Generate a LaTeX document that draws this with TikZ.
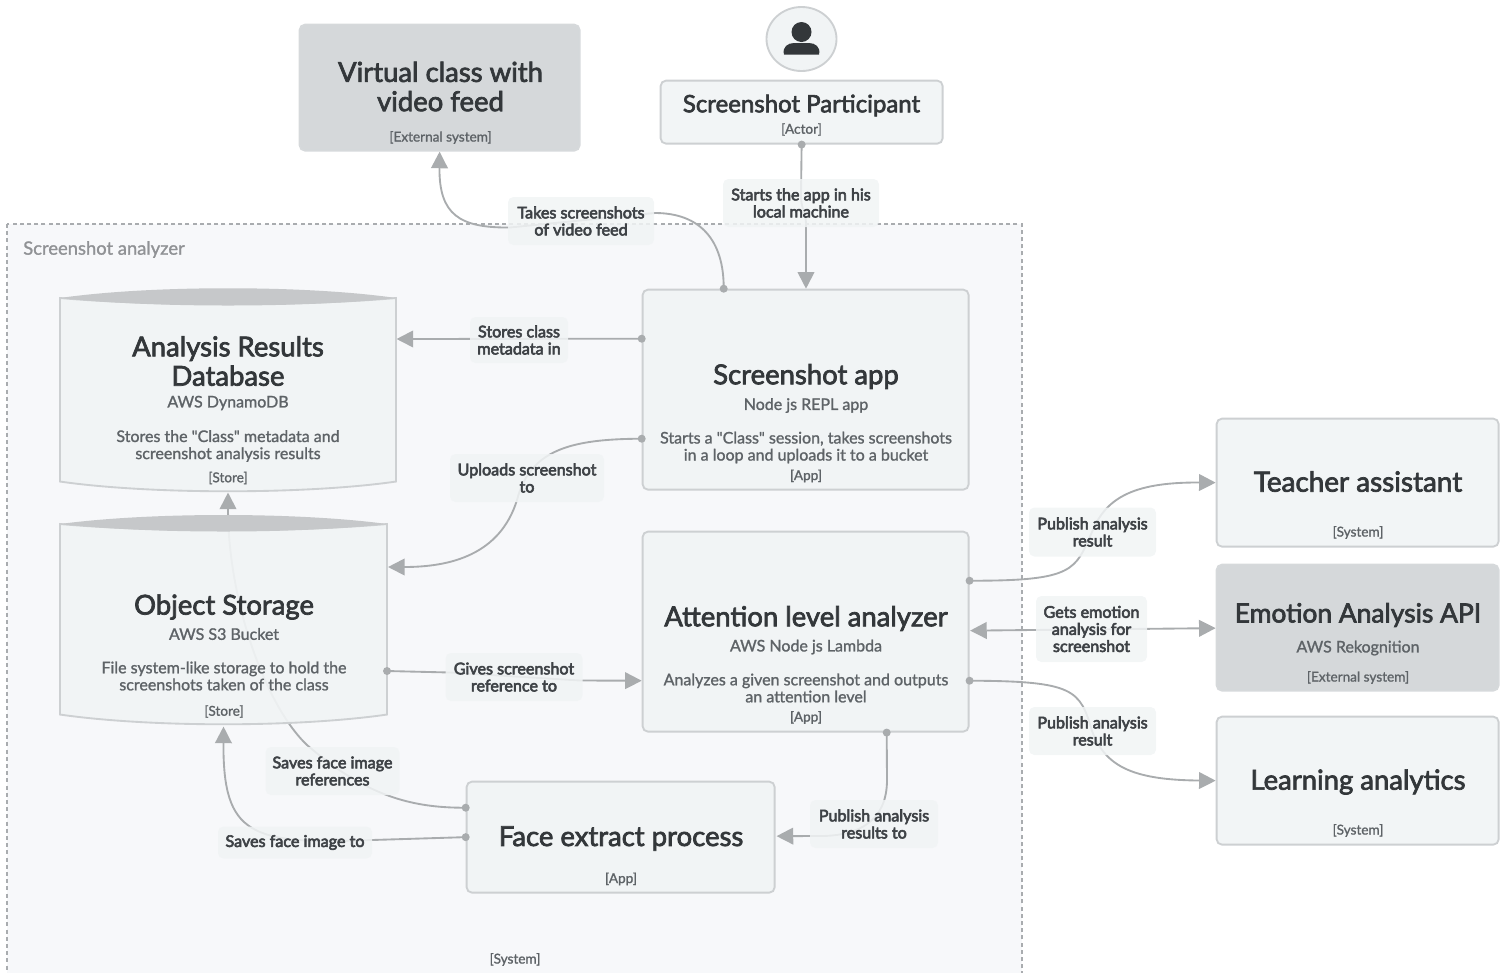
\documentclass[tikz,border=0pt]{standalone}
\usepackage{fontspec}
\setmainfont{Lato}
\newfontfamily\ltitle[FakeBold=2.6]{Lato}
\newfontfamily\llab[FakeBold=3.6]{Lato}
\newfontfamily\lsub[FakeBold=1.3]{Lato}
\usetikzlibrary{calc,arrows.meta,shapes.geometric}
\definecolor{bnd}{HTML}{F7F8FA}
\definecolor{bndline}{HTML}{A9ACAF}
\definecolor{boxfill}{HTML}{F1F4F5}
\definecolor{boxline}{HTML}{CDD0D2}
\definecolor{extfill}{HTML}{D1D5D7}
\definecolor{edgec}{HTML}{A9ACAE}
\definecolor{lens}{HTML}{C6C8CA}
\definecolor{ttl}{HTML}{33373A}
\definecolor{sub}{HTML}{5E6367}
\definecolor{lbl}{HTML}{3E4246}
\pgfdeclarelayer{bgl}\pgfdeclarelayer{edgel}
\pgfsetlayers{bgl,edgel,main}
\tikzset{
 sz/.style 2 args={minimum width=#1*0.75pt,minimum height=#2*0.75pt},
 box/.style={draw=boxline,line width=1.4pt,fill=boxfill,fill opacity=.92,rounded corners=4pt,inner sep=0,anchor=north west},
 extbox/.style={box,draw=extfill!90!white,fill=extfill},
 ghost/.style={inner sep=0,anchor=north west},
 ttlA/.style={text=ttl,align=center,font=\ltitle\fontsize{20.6}{22}\selectfont,inner sep=0},
 ttlB/.style={text=ttl,align=center,font=\ltitle\fontsize{18}{20}\selectfont,inner sep=0},
 subt/.style={text=sub,align=center,font=\lsub\fontsize{12}{12.8}\selectfont,inner sep=0},
 tagt/.style={text=sub,font=\lsub\fontsize{10.2}{11}\selectfont,inner sep=0},
 lab/.style={fill=boxfill,fill opacity=.85,text opacity=1,text=lbl,rounded corners=4pt,align=center,font=\llab\fontsize{12.1}{12.8}\selectfont,inner sep=0},
 edge/.style={draw=edgec,line width=1.4pt,-{Triangle[length=12.5pt,width=12.5pt]}},
 edgeb/.style={draw=edgec,line width=1.4pt,{Triangle[length=12.5pt,width=12.5pt]}-{Triangle[length=12.5pt,width=12.5pt]}},
 dotc/.style={fill=edgec,draw=none},
}
\newcommand{\pdot}[1]{\fill[dotc] (#1) circle (4);}
\begin{document}
\begin{tikzpicture}[x=0.75pt,y=-0.75pt]
\useasboundingbox (0,0) rectangle (1507,972);
\begin{pgfonlayer}{bgl}
\clip (0,0) rectangle (1507,972);
\draw[fill=bnd,draw=bndline,line width=1pt,dash pattern=on 3pt off 2.4pt] (7,224) rectangle (1022,985);
\end{pgfonlayer}
% boundary labels
\node[anchor=west,text=bndline!85!black,font=\lsub\fontsize{13.8}{14}\selectfont,inner sep=0] (sysname) at (23,249.5) {Screenshot analyzer};
\node[tagt] (systag) at (515,959.5) {[System]};
% external
\node[extbox,sz={280}{126}] (virt) at (298.7,23.7) {};
\node[ttlA] (virtT) at (440.5,86.5) {Virtual class with\\video feed};
\node[tagt] (virtG) at (440.5,137.5) {[External system]};
% actor
\node[ellipse,draw=boxline,line width=1.4pt,fill=boxfill,sz={70}{64},inner sep=0] (actor) at (801.5,39) {};
\fill[ttl] (801.5,32) circle (10);
\fill[ttl] (784,54.5) .. controls (782,47) and (788,43) .. (794,43) -- (809,43) .. controls (815,43) and (821,47) .. (819,54.5) -- cycle;
\node[box,sz={282}{63}] (part) at (659.7,79.7) {};
\node[ttlB] (partT) at (801.5,105.5) {Screenshot Participant};
\node[tagt] (partG) at (801.5,129.5) {[Actor]};
% app
\node[box,sz={326}{200}] (app) at (641.7,288.7) {};
\node[ttlA] (appT) at (806,376.5) {Screenshot app};
\node[subt] (appS) at (806,405.5) {Node js REPL app};
\node[subt] (appD) at (806,447.5) {Starts a "Class" session, takes screenshots\\in a loop and uploads it to a bucket};
\node[tagt] (appG) at (806,476) {[App]};
% attention
\node[box,sz={326}{200}] (att) at (641.7,530.7) {};
\node[ttlA] (attT) at (806,618.5) {Attention level analyzer};
\node[subt] (attS) at (806,647) {AWS Node js Lambda};
\node[subt] (attD) at (806,688) {Analyzes a given screenshot and outputs\\an attention level};
\node[tagt] (attG) at (806,717.5) {[App]};
% face
\node[box,sz={308}{111}] (face) at (465.7,780.7) {};
\node[ttlA] (faceT) at (621,838.5) {Face extract process};
\node[tagt] (faceG) at (621,879) {[App]};
% right
\node[box,sz={282}{128}] (teach) at (1215.7,417.7) {};
\node[ttlA,font=\ltitle\fontsize{20.9}{22}\selectfont] (teachT) at (1358,481.5) {Teacher assistant};
\node[tagt] (teachG) at (1358,532.5) {[System]};
\node[extbox,sz={282}{126}] (emo) at (1215.7,563.7) {};
\node[ttlA,font=\ltitle\fontsize{19.8}{22}\selectfont] (emoT) at (1358,615) {Emotion Analysis API};
\node[subt,text=sub] (emoS) at (1358,648) {AWS Rekognition};
\node[tagt] (emoG) at (1358,677.5) {[External system]};
\node[box,sz={282}{128}] (learn) at (1215.7,715.7) {};
\node[ttlA] (learnT) at (1358,782) {Learning analytics};
\node[tagt] (learnG) at (1358,830.5) {[System]};
% cylinders
\node[ghost,sz={335.5}{203}] (db) at (60,288) {};
\path[fill=boxfill,fill opacity=.92,draw=boxline,line width=1.4pt] ($(db.north west)+(0,10)$) .. controls ($(db.north west)+(90,18)$) and ($(db.north east)+(-90,18)$) .. ($(db.north east)+(0,10)$) -- ($(db.south east)+(0,-10)$) .. controls ($(db.south east)+(-90,3)$) and ($(db.south west)+(90,3)$) .. ($(db.south west)+(0,-10)$) -- cycle;
\fill[lens] ($(db.north west)+(0,10)$) .. controls ($(db.north west)+(90,-3)$) and ($(db.north east)+(-90,-3)$) .. ($(db.north east)+(0,10)$) .. controls ($(db.north east)+(-90,20)$) and ($(db.north west)+(90,20)$) .. cycle;
\node[ttlA] (dbT) at (228,361) {Analysis Results\\Database};
\node[subt] (dbS) at (228,403) {AWS DynamoDB};
\node[subt] (dbD) at (228,446) {Stores the "Class" metadata and\\screenshot analysis results};
\node[tagt] (dbG) at (228,478) {[Store]};
\node[ghost,sz={326.5}{209}] (obj) at (60,515) {};
\path[fill=boxfill,fill opacity=.92,draw=boxline,line width=1.4pt] ($(obj.north west)+(0,9)$) .. controls ($(obj.north west)+(90,17)$) and ($(obj.north east)+(-90,17)$) .. ($(obj.north east)+(0,9)$) -- ($(obj.south east)+(0,-10)$) .. controls ($(obj.south east)+(-90,3)$) and ($(obj.south west)+(90,3)$) .. ($(obj.south west)+(0,-10)$) -- cycle;
\fill[lens] ($(obj.north west)+(0,9)$) .. controls ($(obj.north west)+(90,-3)$) and ($(obj.north east)+(-90,-3)$) .. ($(obj.north east)+(0,9)$) .. controls ($(obj.north east)+(-90,19)$) and ($(obj.north west)+(90,19)$) .. cycle;
\node[ttlA] (objT) at (224,607) {Object Storage};
\node[subt] (objS) at (224,634) {AWS S3 Bucket};
\node[subt] (objD) at (224,676) {File system-like storage to hold the\\screenshots taken of the class};
\node[tagt] (objG) at (224,711.5) {[Store]};
% labels
\node[lab,sz={156}{48}] (l1) at (801,203) {Starts the app in his\\local machine};
\node[lab,sz={146}{48}] (l2) at (581,221) {Takes screenshots\\of video feed};
\node[lab,sz={98}{46}] (l3) at (519,340) {Stores class\\metadata in};
\node[lab,sz={154}{48}] (l4) at (527,478) {Uploads screenshot\\to};
\node[lab,sz={137}{48}] (l5) at (514,677) {Gives screenshot\\reference to};
\node[lab,sz={128}{48}] (l6) at (874,824) {Publish analysis\\results to};
\node[lab,sz={154}{32}] (l7) at (295,842.5) {Saves face image to};
\node[lab,sz={134}{48}] (l8) at (332.5,771) {Saves face image\\references};
\node[lab,sz={127}{49}] (l9) at (1092.5,532) {Publish analysis\\result};
\node[lab,sz={111}{66}] (l10) at (1091.5,629) {Gets emotion\\analysis for\\screenshot};
\node[lab,sz={127}{48}] (l11) at (1092.5,731) {Publish analysis\\result};
% ports and edges
\begin{pgfonlayer}{edgel}
\coordinate (a1) at (part.south);
\coordinate (b1) at (app.north west -| 806,0);
\coordinate (a2) at ($(app.north west)+(82,0)$);
\coordinate (b2) at (virt.south);
\coordinate (a3) at ($(app.north west)+(0,50)$);
\coordinate (b3) at ($(db.north east)+(0.5,51)$);
\coordinate (a4) at ($(app.north west)+(0,150)$);
\coordinate (b4) at ($(obj.north east)+(1,52)$);
\coordinate (a5) at ($(obj.north east)+(0,156)$);
\coordinate (b5) at ($(att.north west)+(0,150)$);
\coordinate (a6) at ($(att.south west)+(245,0)$);
\coordinate (b6) at ($(face.east)+(1,-1)$);
\coordinate (a7) at ($(face.west)$);
\coordinate (b7) at ($(obj.south)+(0,2)$);
\coordinate (a8) at ($(face.north west)+(0,27)$);
\coordinate (b8) at ($(db.south)+(0,1)$);
\coordinate (a9) at ($(att.north east)+(0,50)$);
\coordinate (b9) at (teach.west);
\coordinate (a10) at ($(att.north east)+(0,150)$);
\coordinate (b10) at (learn.west);
\coordinate (a11) at ($(att.east)+(0.5,-1)$);
\coordinate (b11) at ($(emo.west)+(0,0.5)$);
\draw[edge] (a1) -- (801,195) .. controls (801,212) and (806,208) .. (806,226) -- (b1);
\draw[edge] (a2) .. controls (724,240) and (700,213) .. (655,213) -- (510,227.5) .. controls (460,228) and (439,215) .. (b2);
\draw[edge] (a3) -- (b3);
\draw[edge] (a4) .. controls (570,439) and (530,450) .. (517,500) .. controls (500,555) and (450,567) .. (b4);
\draw[edge] (a5) -- (450,672.5) -- (580,680.5) -- (b5);
\draw[edge] (a6) -- (887,780) .. controls (887,820) and (860,836) .. (820,836) -- (b6);
\draw[edge] (a7) -- (372,840) .. controls (250,845) and (223,835) .. (b7);
\draw[edge] (a8) .. controls (410,808) and (365,795) .. (307,745) .. controls (265,705) and (228,600) .. (b8);
\draw[edge] (a9) .. controls (1075,581) and (1075,570) .. (1092,532) .. controls (1105,500) and (1130,482) .. (b9);
\draw[edge] (a10) .. controls (1075,681) and (1080,690) .. (1092,731) .. controls (1105,765) and (1130,780) .. (b10);
\draw[edgeb] (a11) -- (b11);
\end{pgfonlayer}
\pdot{a1}\pdot{a2}\pdot{a3}\pdot{a4}\pdot{a5}\pdot{a6}\pdot{a7}\pdot{a8}\pdot{a9}\pdot{a10}
\end{tikzpicture}
\end{document}
